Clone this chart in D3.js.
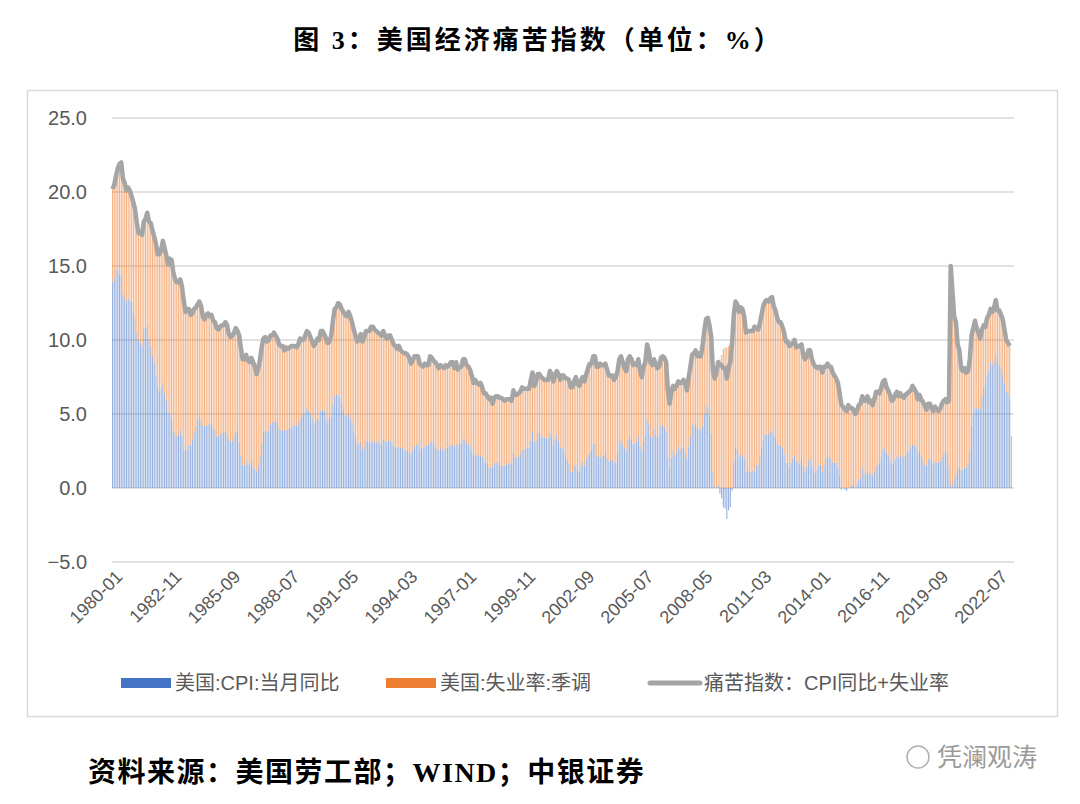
<!DOCTYPE html>
<html><head><meta charset="utf-8">
<script src="https://cdn.jsdelivr.net/npm/d3@7"></script>
<style>body{margin:0;background:#fff;}</style>
</head><body><div id="chart"></div>
<script>
// US CPI YoY (%), monthly from 1980-01
var cpi = [
13.9,14.2,14.8,14.7,14.4,14.4,13.1,12.9,12.6,12.8,12.6,12.5,
11.8,11.4,10.5,10.0,9.8,9.6,10.8,10.8,11.0,10.1,9.6,8.9,
8.4,7.6,6.8,6.5,6.7,7.1,6.4,5.9,5.0,5.1,4.6,3.8,
3.7,3.5,3.6,3.9,3.5,2.6,2.5,2.6,2.9,2.9,3.3,3.8,
4.2,4.6,4.8,4.6,4.2,4.2,4.2,4.3,4.3,4.3,4.1,3.9,
3.5,3.5,3.7,3.7,3.8,3.8,3.6,3.3,3.1,3.2,3.5,3.8,
3.9,3.1,2.2,1.6,1.5,1.8,1.6,1.6,1.8,1.5,1.3,1.1,
1.5,2.1,3.0,3.8,3.9,3.7,3.9,4.3,4.4,4.5,4.5,4.4,
4.0,3.9,3.9,3.9,3.9,4.0,4.1,4.0,4.2,4.2,4.2,4.4,
4.7,4.8,5.0,5.1,5.4,5.2,5.0,4.7,4.3,4.5,4.7,4.6,
5.2,5.3,5.2,4.7,4.4,4.7,4.8,5.6,6.2,6.3,6.3,6.1,
5.7,5.3,4.9,4.9,5.0,4.7,4.4,3.8,3.4,2.9,3.0,3.1,
2.6,2.8,3.2,3.2,3.0,3.1,3.2,3.1,3.0,3.2,3.0,2.9,
3.3,3.2,3.1,3.2,3.2,3.0,2.8,2.8,2.7,2.8,2.7,2.7,
2.5,2.5,2.5,2.4,2.3,2.5,2.8,2.9,3.0,2.6,2.7,2.7,
2.8,2.9,2.9,3.1,3.2,3.0,2.8,2.6,2.5,2.8,2.6,2.5,
2.7,2.7,2.8,2.9,2.9,2.8,3.0,2.9,3.0,3.0,3.3,3.3,
3.0,3.0,2.8,2.5,2.2,2.3,2.2,2.2,2.2,2.1,1.8,1.7,
1.6,1.4,1.4,1.4,1.7,1.7,1.7,1.6,1.5,1.5,1.5,1.6,
1.7,1.6,1.7,2.3,2.1,2.0,2.1,2.3,2.6,2.6,2.6,2.7,
2.7,3.2,3.8,3.1,3.2,3.7,3.7,3.4,3.5,3.4,3.4,3.4,
3.7,3.5,2.9,3.3,3.6,3.2,2.7,2.7,2.6,2.1,1.9,1.6,
1.1,1.1,1.5,1.6,1.2,1.1,1.5,1.8,1.5,2.0,2.2,2.4,
2.6,3.0,3.0,2.2,2.1,2.1,2.1,2.2,2.3,2.0,1.8,1.9,
1.9,1.7,1.7,2.3,3.1,3.3,3.0,2.7,2.5,3.2,3.5,3.3,
3.0,3.0,3.1,3.5,2.8,2.5,3.2,3.6,4.7,4.3,3.5,3.4,
4.0,3.6,3.4,3.5,4.2,4.3,4.1,3.8,2.1,1.3,2.0,2.5,
2.1,2.4,2.8,2.6,2.7,2.7,2.4,2.0,2.8,3.5,4.3,4.1,
4.3,4.0,4.0,3.9,4.2,5.0,5.6,5.4,4.9,3.7,1.1,0.1,
0.0,0.2,-0.4,-0.7,-1.3,-1.4,-2.1,-1.5,-1.3,-0.2,1.8,2.7,
2.6,2.1,2.3,2.2,2.0,1.1,1.2,1.1,1.1,1.2,1.1,1.5,
1.6,2.1,2.7,3.2,3.6,3.6,3.6,3.8,3.9,3.5,3.4,3.0,
2.9,2.9,2.7,2.3,1.7,1.7,1.4,1.7,2.0,2.2,1.8,1.7,
1.6,2.0,1.5,1.1,1.4,1.8,2.0,1.5,1.2,1.0,1.2,1.5,
1.6,1.1,1.5,2.0,2.1,2.1,2.0,1.7,1.7,1.7,1.3,0.8,
-0.1,0.0,-0.1,-0.2,0.0,0.1,0.2,0.2,0.0,0.2,0.5,0.7,
1.4,1.0,0.9,1.1,1.0,1.0,0.8,1.1,1.5,1.6,1.7,2.1,
2.5,2.7,2.4,2.2,1.9,1.6,1.7,1.9,2.2,2.0,2.2,2.1,
2.1,2.2,2.4,2.5,2.8,2.9,2.9,2.7,2.3,2.5,2.2,1.9,
1.6,1.5,1.9,2.0,1.8,1.6,1.8,1.7,1.7,1.8,2.1,2.3,
2.5,2.3,1.5,0.3,0.1,0.6,1.0,1.3,1.4,1.2,1.2,1.4,
1.4,1.7,2.6,4.2,5.0,5.4,5.4,5.3,5.4,6.2,6.8,7.0,
7.5,7.9,8.5,8.3,8.6,9.1,8.5,8.3,8.2,7.7,7.1,6.5,
6.4,6.0,null
];
// US unemployment rate, seasonally adjusted (%)
var unemp = [
6.3,6.3,6.3,6.9,7.5,7.6,7.8,7.7,7.5,7.5,7.5,7.2,
7.5,7.4,7.4,7.2,7.5,7.5,7.2,7.4,7.6,7.9,8.3,8.5,
8.6,8.9,9.0,9.3,9.4,9.6,9.8,9.8,10.1,10.4,10.8,10.8,
10.4,10.4,10.3,10.2,10.1,10.1,9.4,9.5,9.2,8.8,8.5,8.3,
8.0,7.8,7.8,7.7,7.4,7.2,7.5,7.5,7.3,7.4,7.2,7.3,
7.3,7.2,7.2,7.3,7.2,7.4,7.4,7.1,7.1,7.1,7.0,7.0,
6.7,7.2,7.2,7.1,7.2,7.2,7.0,6.9,7.0,7.0,6.9,6.6,
6.6,6.6,6.6,6.3,6.3,6.2,6.1,6.0,5.9,6.0,5.8,5.7,
5.7,5.7,5.7,5.4,5.6,5.4,5.4,5.6,5.4,5.4,5.3,5.3,
5.4,5.2,5.0,5.2,5.2,5.3,5.2,5.2,5.3,5.3,5.4,5.4,
5.4,5.3,5.2,5.4,5.4,5.2,5.5,5.7,5.9,5.9,6.2,6.3,
6.4,6.6,6.8,6.7,6.9,6.9,6.8,6.9,6.9,7.0,7.0,7.3,
7.3,7.4,7.4,7.4,7.6,7.8,7.7,7.6,7.6,7.3,7.4,7.4,
7.3,7.1,7.0,7.1,7.1,7.0,6.9,6.8,6.7,6.8,6.6,6.5,
6.6,6.6,6.5,6.4,6.1,6.1,6.1,6.0,5.9,5.8,5.6,5.5,
5.6,5.4,5.4,5.8,5.6,5.6,5.7,5.7,5.6,5.5,5.6,5.6,
5.6,5.5,5.5,5.6,5.6,5.3,5.5,5.1,5.2,5.2,5.4,5.4,
5.3,5.2,5.2,5.1,4.9,5.0,4.9,4.8,4.9,4.7,4.6,4.7,
4.6,4.6,4.7,4.3,4.4,4.5,4.5,4.5,4.6,4.5,4.4,4.4,
4.3,4.4,4.2,4.3,4.2,4.3,4.3,4.2,4.2,4.1,4.1,4.0,
4.0,4.1,4.0,3.8,4.0,4.0,4.0,4.1,3.9,3.9,3.9,3.9,
4.2,4.2,4.3,4.4,4.3,4.5,4.6,4.9,5.0,5.3,5.5,5.7,
5.7,5.7,5.7,5.9,5.8,5.8,5.8,5.7,5.7,5.7,5.9,6.0,
5.8,5.9,5.9,6.0,6.1,6.3,6.2,6.1,6.1,6.0,5.8,5.7,
5.7,5.6,5.8,5.6,5.6,5.6,5.5,5.4,5.4,5.5,5.4,5.4,
5.3,5.4,5.2,5.2,5.1,5.0,5.0,4.9,5.0,5.0,5.0,4.9,
4.7,4.8,4.7,4.7,4.6,4.6,4.7,4.7,4.5,4.4,4.5,4.4,
4.6,4.5,4.4,4.5,4.4,4.6,4.7,4.6,4.7,4.7,4.7,5.0,
5.0,4.9,5.1,5.0,5.4,5.6,5.8,6.1,6.1,6.5,6.8,7.3,
7.8,8.3,8.7,9.0,9.4,9.5,9.5,9.6,9.8,10.0,9.9,9.9,
9.8,9.8,9.9,9.9,9.6,9.4,9.4,9.5,9.5,9.4,9.8,9.3,
9.1,9.0,9.0,9.1,9.0,9.1,9.0,9.0,9.0,8.8,8.6,8.5,
8.3,8.3,8.2,8.2,8.2,8.2,8.2,8.0,7.8,7.8,7.7,7.9,
8.0,7.7,7.5,7.6,7.5,7.5,7.3,7.2,7.2,7.2,6.9,6.7,
6.6,6.7,6.7,6.2,6.3,6.1,6.2,6.1,5.9,5.7,5.8,5.6,
5.7,5.5,5.4,5.4,5.6,5.3,5.2,5.1,5.0,5.0,5.1,5.0,
4.8,4.9,5.0,5.1,4.8,4.9,4.8,4.9,5.0,4.9,4.7,4.7,
4.7,4.6,4.4,4.4,4.4,4.3,4.3,4.4,4.3,4.2,4.2,4.1,
4.0,4.1,4.0,4.0,3.8,4.0,3.8,3.8,3.7,3.8,3.8,3.9,
4.0,3.8,3.8,3.7,3.6,3.6,3.7,3.6,3.5,3.6,3.6,3.6,
3.5,3.5,4.4,14.7,13.2,11.0,10.2,8.4,7.9,6.9,6.7,6.7,
6.4,6.2,6.1,6.1,5.8,5.9,5.4,5.2,4.7,4.5,4.2,3.9,
4.0,3.8,3.6,3.6,3.6,3.6,3.5,3.7,3.5,3.7,3.6,3.5,
3.4,3.6,3.5
];
var yTicks = [-5, 0, 5, 10, 15, 20, 25];
var startYear = 1980, tickStep = 34;

var months = cpi.map(function(d, i) {
    var y = startYear + Math.floor(i / 12), m = i % 12 + 1;
    return y + "-" + (m < 10 ? "0" + m : m);
});
var data = months.map(function(m, i) {
    return { month: m, cpi: cpi[i], unemp: unemp[i],
             misery: cpi[i] == null ? null : +(cpi[i] + unemp[i]).toFixed(1) };
});

var W = 1080, H = 804;
var svg = d3.select("#chart").append("svg").attr("width", W).attr("height", H);
var fontCN = "'Liberation Serif','Noto Sans CJK SC',serif";
var fontAx = "'Liberation Sans','Noto Sans CJK SC',sans-serif";

svg.append("text").attr("x", 538).attr("y", 49).attr("text-anchor", "middle")
   .style("font-family", fontCN).style("font-weight", "bold").style("font-size", "26px")
   .style("letter-spacing", "3px").text("图 3：美国经济痛苦指数（单位：%）");

svg.append("rect").attr("x", 27.5).attr("y", 90.5).attr("width", 1030).attr("height", 626)
   .attr("fill", "none").attr("stroke", "#d9d9d9").attr("stroke-width", 1.5);

var x = d3.scaleBand().domain(months).range([112, 1012]).paddingInner(0.35);
var y = d3.scaleLinear().domain([-5, 25]).range([562, 118]);

svg.append("g").selectAll("line").data(yTicks).enter().append("line")
   .attr("x1", 112).attr("x2", 1014).attr("y1", d => y(d)).attr("y2", d => y(d))
   .attr("stroke", "#d9d9d9").attr("stroke-width", 1.3);

var yAxis = svg.append("g").attr("transform", "translate(90,0)")
   .call(d3.axisLeft(y).tickValues(yTicks).tickFormat(d3.format(".1f")).tickSize(0));
yAxis.select(".domain").remove();
yAxis.selectAll("text").attr("fill", "#595959").style("font-family", fontAx).style("font-size", "20px");

// CPI bars
svg.append("g").selectAll("rect").data(data.filter(d => d.cpi != null)).enter().append("rect")
   .attr("x", d => x(d.month)).attr("width", x.bandwidth())
   .attr("y", d => y(Math.max(0, d.cpi))).attr("height", d => Math.abs(y(d.cpi) - y(0)))
   .attr("fill", "#4472C4").attr("fill-opacity", 0.55);

// unemployment bars stacked on positive CPI
svg.append("g").selectAll("rect").data(data).enter().append("rect")
   .attr("x", d => x(d.month)).attr("width", x.bandwidth())
   .attr("y", d => y(Math.max(0, d.cpi || 0) + d.unemp))
   .attr("height", d => y(Math.max(0, d.cpi || 0)) - y(Math.max(0, d.cpi || 0) + d.unemp))
   .attr("fill", "#ED7D31").attr("fill-opacity", 0.58);

var line = d3.line().defined(d => d.misery != null)
   .x(d => x(d.month) + x.bandwidth() / 2).y(d => y(d.misery));
svg.append("path").datum(data).attr("d", line).attr("fill", "none")
   .attr("stroke", "#A5A5A5").attr("stroke-width", 4.5).attr("stroke-linejoin", "round");

var xTicks = months.filter((m, i) => i % tickStep === 0);
var xAxis = svg.append("g").attr("transform", "translate(0,572)")
   .call(d3.axisBottom(x).tickValues(xTicks).tickSize(0));
xAxis.select(".domain").remove();
xAxis.selectAll("text").attr("fill", "#595959").style("font-family", fontAx).style("font-size", "18px")
   .style("text-anchor", "end").attr("dx", "0.2em").attr("dy", "0.5em").attr("transform", "rotate(-45)");

var legend = [
    { label: "美国:CPI:当月同比", color: "#4472C4", x: 121, type: "rect" },
    { label: "美国:失业率:季调", color: "#ED7D31", x: 386, type: "rect" },
    { label: "痛苦指数：CPI同比+失业率", color: "#A5A5A5", x: 650, type: "line" }
];
var lg = svg.append("g").selectAll("g").data(legend).enter().append("g")
   .attr("transform", d => "translate(" + d.x + ",683)");
lg.filter(d => d.type === "rect").append("rect").attr("x", 0).attr("y", -5).attr("width", 50).attr("height", 10)
   .attr("fill", d => d.color);
lg.filter(d => d.type === "line").append("line").attr("x1", 0).attr("x2", 50).attr("y1", 0).attr("y2", 0)
   .attr("stroke", d => d.color).attr("stroke-width", 5).attr("stroke-linecap", "round");
lg.append("text").attr("x", 54).attr("y", 7).attr("fill", "#595959")
   .style("font-family", fontAx).style("font-size", "20px").text(d => d.label);

svg.append("text").attr("x", 88).attr("y", 782)
   .style("font-family", fontCN).style("font-weight", "bold").style("font-size", "28px")
   .style("letter-spacing", "1.5px").text("资料来源：美国劳工部；WIND；中银证券");
svg.append("text").attr("x", 937).attr("y", 766)
   .style("font-family", "'Noto Sans CJK SC',sans-serif").style("font-size", "25px").attr("fill", "#9a9a9a")
   .text("凭澜观涛");
svg.append("circle").attr("cx", 918).attr("cy", 757).attr("r", 11).attr("fill", "none")
   .attr("stroke", "#b0b0b0").attr("stroke-width", 1.5);
</script>
</body></html>
